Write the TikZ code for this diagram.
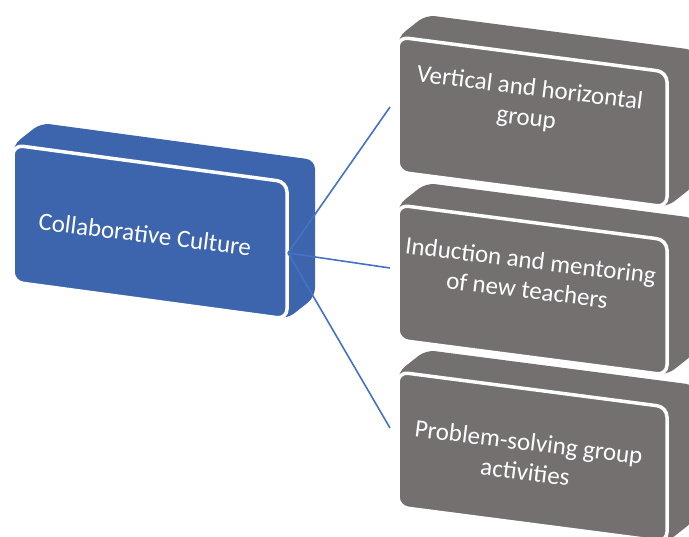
\documentclass[tikz,border=0pt]{standalone}
\usepackage{fontspec}
\setmainfont{Carlito}
\definecolor{bluebox}{RGB}{60,101,173}
\definecolor{graybox}{RGB}{117,112,112}
\definecolor{linkcol}{RGB}{68,114,196}
% #1 x, #2 y (front top-left), #3 width, #4 height, #5 rise, #6 colour
\newcommand\blockbox[6]{%
  \fill[#6, rounded corners=9pt] (#1,#2) -- ++(28,-22) -- ++(#3,#5) -- ++(0,#4) -- ++(-28,22) -- ++(-#3,-#5) -- cycle;
  \filldraw[fill=#6, draw=white, line width=3.5pt, rounded corners=10pt] (#1,#2) -- ++(#3,#5) -- ++(0,#4) -- ++(-#3,-#5) -- cycle;
}
\tikzset{
  boxtext/.style={text=white, font=\fontsize{25}{30}\selectfont, rotate=-7, align=center, inner sep=0pt},
  linkline/.style={draw=linkcol, line width=1.6pt}
}
\begin{document}
\begin{tikzpicture}[x=1pt,y=-1pt]
\useasboundingbox (0,0) rectangle (689,537);
\clip (0,0) rectangle (689,537);
\blockbox{13}{145}{274}{137}{37}{bluebox}
\blockbox{398}{37}{269}{135}{35}{graybox}
\blockbox{398}{205}{269}{135}{35}{graybox}
\blockbox{398}{372}{269}{135}{35}{graybox}
\node[boxtext] (t0) at (145,234) {Collaborative Culture};
\node[boxtext] (t1) at (528,104) {Vertical and horizontal\\group};
\node[boxtext] (t2) at (529,275) {Induction and mentoring\\of new teachers};
\node[boxtext] (t3) at (527,457) {Problem-solving group\\activities};
\coordinate (c0) at (288,253);
\coordinate (e1) at (390,107);
\coordinate (e2) at (390,268);
\coordinate (e3) at (390,428);
\draw[linkline] (c0) -- (e1);
\draw[linkline] (c0) -- (e2);
\draw[linkline] (c0) -- (e3);
\end{tikzpicture}
\end{document}
